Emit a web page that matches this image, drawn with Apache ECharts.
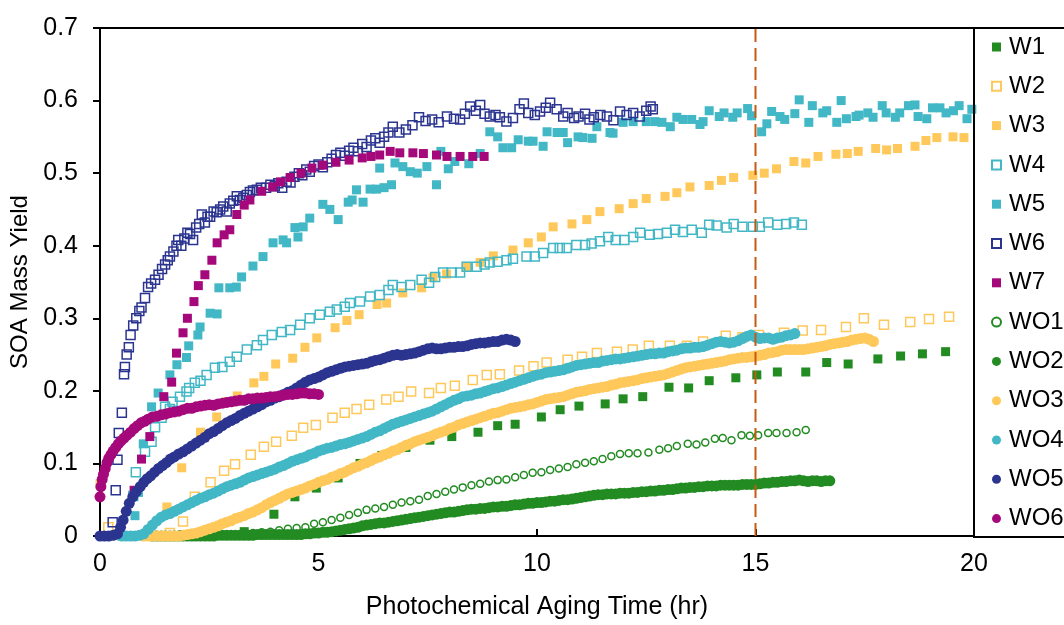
<!DOCTYPE html>
<html>
<head>
<meta charset="utf-8">
<script src="https://cdn.jsdelivr.net/npm/echarts@6/dist/echarts.min.js"></script>
<style>
  html, body { margin: 0; padding: 0; background: #fff; }
  #chart { width: 1064px; height: 625px; }
</style>
</head>
<body>
<div id="chart"></div>
<script>
// SOA mass yield vs. photochemical aging time, [hours, yield] pairs per experiment
const W1 = [[0.5,0.0],[1.2,0.001],[1.9,0.002],[2.6,0.003],[3.3,0.006],[3.98,0.03],[4.46,0.054],[4.95,0.066],[5.45,0.08],[5.95,0.1],[6.45,0.111],[7.0,0.122],[7.55,0.132],[8.05,0.137],[8.65,0.143],[9.1,0.152],[9.5,0.154],[10.1,0.164],[10.53,0.174],[10.96,0.179],[11.56,0.182],[11.97,0.189],[12.42,0.192],[13.02,0.205],[13.47,0.204],[13.94,0.214],[14.55,0.218],[15.03,0.222],[15.5,0.226],[16.15,0.226],[16.63,0.239],[17.12,0.237],[17.8,0.244],[18.32,0.248],[18.82,0.251],[19.35,0.254]];

const W2 = [[0.19,0.012],[1.6,0.004],[1.9,0.02],[2.17,0.054],[2.53,0.074],[2.84,0.09],[3.09,0.099],[3.45,0.112],[3.75,0.123],[4.03,0.13],[4.39,0.138],[4.65,0.149],[4.94,0.153],[5.32,0.163],[5.6,0.17],[5.87,0.175],[6.16,0.181],[6.55,0.188],[6.83,0.192],[7.12,0.199],[7.53,0.197],[7.8,0.204],[8.12,0.207],[8.53,0.215],[8.85,0.222],[9.15,0.223],[9.59,0.228],[9.92,0.234],[10.22,0.239],[10.7,0.243],[11.03,0.247],[11.37,0.252],[11.83,0.254],[12.19,0.257],[12.56,0.262],[13.04,0.262],[13.43,0.262],[13.8,0.268],[14.32,0.276],[14.7,0.274],[15.08,0.277],[15.65,0.28],[16.08,0.283],[16.5,0.284],[17.07,0.288],[17.48,0.3],[17.94,0.291],[18.54,0.295],[18.97,0.299],[19.43,0.302]];

const W3 = [[0.0,0.072],[1.53,0.04],[1.87,0.094],[2.3,0.143],[2.67,0.164],[2.9,0.185],[3.14,0.193],[3.52,0.211],[3.75,0.22],[4.02,0.237],[4.41,0.245],[4.69,0.26],[4.96,0.273],[5.38,0.287],[5.65,0.297],[5.93,0.305],[6.34,0.319],[6.56,0.321],[6.93,0.335],[7.36,0.342],[7.62,0.356],[7.93,0.361],[8.4,0.371],[8.7,0.377],[9.0,0.386],[9.45,0.394],[9.8,0.404],[10.1,0.412],[10.37,0.426],[10.8,0.43],[11.14,0.436],[11.44,0.447],[11.88,0.451],[12.2,0.458],[12.5,0.465],[12.93,0.468],[13.2,0.473],[13.5,0.481],[13.94,0.483],[14.22,0.49],[14.5,0.494],[14.94,0.497],[15.2,0.5],[15.48,0.506],[15.88,0.516],[16.15,0.514],[16.43,0.523],[16.84,0.526],[17.1,0.527],[17.35,0.53],[17.75,0.534],[18.0,0.532],[18.25,0.534],[18.65,0.537],[18.9,0.545],[19.15,0.549],[19.52,0.55],[19.77,0.549]];

const W4 = [[0.76,0.055],[0.82,0.088],[1.03,0.116],[1.18,0.13],[1.26,0.15],[1.41,0.163],[1.49,0.178],[1.6,0.175],[1.66,0.185],[1.83,0.192],[1.98,0.199],[2.04,0.204],[2.17,0.211],[2.3,0.214],[2.44,0.222],[2.63,0.232],[2.8,0.233],[2.97,0.24],[3.13,0.247],[3.36,0.257],[3.59,0.263],[3.73,0.27],[3.93,0.277],[4.16,0.281],[4.35,0.284],[4.58,0.291],[4.8,0.3],[5.03,0.305],[5.26,0.309],[5.42,0.312],[5.6,0.316],[5.72,0.321],[5.95,0.323],[6.18,0.33],[6.4,0.332],[6.6,0.339],[6.7,0.346],[6.9,0.343],[7.1,0.346],[7.36,0.353],[7.53,0.349],[7.67,0.357],[7.85,0.363],[8.05,0.363],[8.24,0.363],[8.39,0.371],[8.62,0.371],[8.8,0.374],[8.92,0.377],[9.1,0.378],[9.3,0.38],[9.45,0.382],[9.76,0.385],[9.95,0.385],[10.14,0.39],[10.37,0.397],[10.52,0.397],[10.68,0.397],[10.9,0.401],[11.1,0.401],[11.25,0.403],[11.44,0.406],[11.63,0.412],[11.8,0.408],[12.0,0.408],[12.2,0.412],[12.36,0.418],[12.58,0.415],[12.77,0.416],[12.97,0.418],[13.16,0.422],[13.34,0.419],[13.54,0.422],[13.77,0.418],[13.94,0.429],[14.11,0.428],[14.34,0.425],[14.5,0.43],[14.7,0.426],[14.94,0.426],[15.1,0.426],[15.29,0.432],[15.5,0.429],[15.7,0.43],[15.88,0.432],[16.06,0.429]];

const W5 = [[0.8,0.028],[0.88,0.06],[0.99,0.127],[1.18,0.178],[1.33,0.197],[1.6,0.222],[1.76,0.236],[1.98,0.246],[2.03,0.262],[2.24,0.277],[2.29,0.288],[2.52,0.307],[2.68,0.306],[2.72,0.342],[2.97,0.342],[3.12,0.343],[3.24,0.357],[3.5,0.372],[3.73,0.385],[3.96,0.404],[4.19,0.408],[4.27,0.404],[4.46,0.425],[4.53,0.412],[4.65,0.426],[4.8,0.438],[5.1,0.457],[5.26,0.45],[5.45,0.436],[5.68,0.46],[5.77,0.463],[5.87,0.477],[6.02,0.46],[6.18,0.478],[6.33,0.478],[6.4,0.507],[6.5,0.48],[6.67,0.484],[6.75,0.514],[6.93,0.509],[7.1,0.502],[7.26,0.5],[7.48,0.509],[7.7,0.484],[7.8,0.53],[7.97,0.506],[8.12,0.516],[8.44,0.513],[8.7,0.527],[8.92,0.557],[9.1,0.55],[9.22,0.535],[9.42,0.535],[9.57,0.546],[9.8,0.544],[9.91,0.544],[10.14,0.537],[10.23,0.557],[10.46,0.556],[10.6,0.556],[10.7,0.542],[10.94,0.55],[11.05,0.549],[11.26,0.548],[11.37,0.564],[11.67,0.556],[11.74,0.555],[11.97,0.57],[12.2,0.571],[12.5,0.571],[12.7,0.571],[12.86,0.57],[13.05,0.564],[13.2,0.577],[13.34,0.574],[13.54,0.574],[13.73,0.567],[13.8,0.571],[13.94,0.586],[14.17,0.578],[14.28,0.583],[14.48,0.577],[14.58,0.583],[14.82,0.589],[14.91,0.579],[15.14,0.557],[15.26,0.568],[15.37,0.585],[15.56,0.578],[15.67,0.574],[15.9,0.582],[16.0,0.601],[16.22,0.57],[16.3,0.593],[16.54,0.583],[16.63,0.586],[16.86,0.57],[16.96,0.6],[17.08,0.575],[17.3,0.578],[17.37,0.58],[17.57,0.583],[17.69,0.577],[17.9,0.593],[17.99,0.583],[18.2,0.577],[18.3,0.583],[18.5,0.593],[18.65,0.594],[18.72,0.578],[18.92,0.575],[19.05,0.59],[19.22,0.59],[19.36,0.583],[19.53,0.586],[19.66,0.593],[19.84,0.575],[19.95,0.588]];

const W6 = [[0.29,0.019],[0.36,0.063],[0.4,0.105],[0.43,0.142],[0.5,0.17],[0.55,0.223],[0.57,0.233],[0.61,0.25],[0.66,0.26],[0.7,0.277],[0.76,0.29],[0.83,0.3],[0.9,0.31],[0.95,0.315],[1.03,0.328],[1.1,0.343],[1.17,0.348],[1.26,0.353],[1.34,0.36],[1.42,0.368],[1.49,0.374],[1.55,0.38],[1.6,0.385],[1.68,0.392],[1.75,0.4],[1.79,0.408],[1.86,0.4],[1.93,0.41],[2.0,0.418],[2.06,0.416],[2.13,0.408],[2.2,0.425],[2.27,0.43],[2.33,0.443],[2.4,0.432],[2.46,0.44],[2.52,0.44],[2.6,0.447],[2.67,0.446],[2.75,0.45],[2.82,0.454],[2.9,0.447],[2.97,0.458],[3.05,0.462],[3.13,0.468],[3.2,0.463],[3.28,0.466],[3.36,0.47],[3.43,0.474],[3.5,0.476],[3.59,0.477],[3.68,0.48],[3.8,0.48],[3.9,0.484],[4.0,0.482],[4.08,0.486],[4.17,0.48],[4.27,0.488],[4.36,0.487],[4.45,0.495],[4.55,0.5],[4.63,0.497],[4.72,0.505],[4.8,0.502],[4.9,0.51],[5.0,0.512],[5.1,0.508],[5.2,0.515],[5.3,0.52],[5.4,0.525],[5.5,0.528],[5.6,0.524],[5.7,0.531],[5.8,0.535],[5.9,0.53],[6.0,0.54],[6.1,0.536],[6.2,0.545],[6.3,0.548],[6.4,0.542],[6.5,0.55],[6.6,0.556],[6.7,0.564],[6.85,0.556],[7.0,0.56],[7.15,0.566],[7.3,0.577],[7.45,0.572],[7.6,0.574],[7.75,0.57],[7.94,0.578],[8.1,0.575],[8.24,0.574],[8.35,0.582],[8.47,0.592],[8.6,0.586],[8.7,0.594],[8.8,0.582],[8.92,0.578],[9.05,0.58],[9.15,0.577],[9.3,0.571],[9.45,0.576],[9.6,0.588],[9.7,0.596],[9.8,0.583],[9.95,0.58],[10.07,0.585],[10.2,0.59],[10.3,0.597],[10.45,0.588],[10.6,0.578],[10.7,0.583],[10.85,0.576],[10.95,0.578],[11.1,0.582],[11.2,0.574],[11.3,0.577],[11.45,0.58],[11.6,0.578],[11.75,0.573],[11.9,0.585],[12.05,0.58],[12.2,0.583],[12.35,0.578],[12.5,0.586],[12.6,0.592],[12.65,0.588]];

const W7 = [[0.78,0.063],[0.95,0.106],[1.14,0.137],[1.46,0.192],[1.64,0.212],[1.75,0.252],[1.9,0.28],[2.0,0.3],[2.15,0.323],[2.25,0.345],[2.4,0.36],[2.56,0.38],[2.68,0.404],[2.84,0.415],[2.97,0.422],[3.13,0.443],[3.3,0.456],[3.43,0.463],[3.7,0.475],[3.95,0.481],[4.13,0.488],[4.35,0.494],[4.6,0.5],[4.85,0.507],[5.1,0.511],[5.4,0.515],[5.7,0.518],[6.0,0.521],[6.2,0.523],[6.4,0.525],[6.64,0.53],[6.86,0.528],[7.16,0.528],[7.4,0.527],[7.7,0.525],[7.94,0.523],[8.24,0.523],[8.53,0.523],[8.79,0.523]];

const WO1 = [[3.3,0.003],[3.5,0.004],[3.7,0.005],[3.9,0.006],[4.1,0.008],[4.3,0.01],[4.5,0.011],[4.7,0.012],[4.9,0.017],[5.1,0.019],[5.3,0.022],[5.5,0.025],[5.7,0.029],[5.9,0.032],[6.1,0.036],[6.3,0.038],[6.5,0.04],[6.7,0.043],[6.9,0.046],[7.1,0.048],[7.3,0.05],[7.5,0.055],[7.7,0.058],[7.9,0.061],[8.1,0.064],[8.3,0.067],[8.5,0.07],[8.7,0.072],[8.9,0.075],[9.1,0.077],[9.3,0.078],[9.5,0.081],[9.7,0.084],[9.9,0.087],[10.1,0.088],[10.3,0.091],[10.5,0.093],[10.7,0.095],[10.9,0.099],[11.1,0.101],[11.3,0.103],[11.5,0.106],[11.7,0.11],[11.9,0.113],[12.1,0.114],[12.3,0.114],[12.55,0.115],[12.8,0.119],[13.0,0.121],[13.2,0.124],[13.45,0.127],[13.65,0.126],[13.85,0.129],[14.07,0.134],[14.25,0.135],[14.45,0.132],[14.68,0.139],[14.87,0.138],[15.06,0.139],[15.29,0.142],[15.48,0.142],[15.71,0.142],[15.94,0.143],[16.15,0.146]];

const WO2 = [[1.2,0],[1.3,0],[1.4,0],[1.5,0],[1.6,0],[1.7,0],[1.8,0],[1.9,0],[2.0,0],[2.1,0],[2.2,0],[2.3,0],[2.4,0],[2.5,0],[2.6,0],[2.7,0.001],[2.8,0.001],[2.9,0.001],[3.0,0.001],[3.1,0.001],[3.2,0.001],[3.3,0.001],[3.4,0.001],[3.5,0.001],[3.6,0.002],[3.7,0.002],[3.8,0.002],[3.9,0.002],[4.0,0.002],[4.1,0.002],[4.2,0.002],[4.3,0.002],[4.4,0.002],[4.5,0.002],[4.6,0.002],[4.7,0.003],[4.8,0.003],[4.9,0.004],[5.0,0.004],[5.1,0.005],[5.2,0.005],[5.3,0.006],[5.4,0.007],[5.5,0.008],[5.6,0.009],[5.7,0.01],[5.8,0.011],[5.9,0.012],[6.0,0.014],[6.1,0.015],[6.2,0.016],[6.3,0.017],[6.4,0.018],[6.5,0.018],[6.6,0.019],[6.7,0.02],[6.8,0.021],[6.9,0.022],[7.0,0.023],[7.1,0.024],[7.2,0.025],[7.3,0.026],[7.4,0.027],[7.5,0.028],[7.6,0.029],[7.7,0.03],[7.8,0.031],[7.9,0.032],[8.0,0.033],[8.1,0.033],[8.2,0.034],[8.3,0.035],[8.4,0.036],[8.5,0.037],[8.6,0.037],[8.7,0.038],[8.8,0.038],[8.9,0.039],[9.0,0.04],[9.1,0.04],[9.2,0.041],[9.3,0.041],[9.4,0.042],[9.5,0.043],[9.6,0.043],[9.7,0.044],[9.8,0.045],[9.9,0.045],[10.0,0.046],[10.1,0.046],[10.2,0.047],[10.3,0.048],[10.4,0.048],[10.5,0.049],[10.6,0.05],[10.7,0.05],[10.8,0.051],[10.9,0.052],[11.0,0.053],[11.1,0.054],[11.2,0.055],[11.3,0.056],[11.4,0.057],[11.5,0.057],[11.6,0.058],[11.7,0.058],[11.8,0.058],[11.9,0.059],[12.0,0.059],[12.1,0.059],[12.2,0.06],[12.3,0.06],[12.4,0.061],[12.5,0.061],[12.6,0.062],[12.7,0.062],[12.8,0.063],[12.9,0.063],[13.0,0.064],[13.1,0.064],[13.2,0.065],[13.3,0.066],[13.4,0.066],[13.5,0.067],[13.6,0.067],[13.7,0.068],[13.8,0.068],[13.9,0.069],[14.0,0.069],[14.1,0.069],[14.2,0.07],[14.3,0.07],[14.4,0.07],[14.5,0.07],[14.6,0.07],[14.7,0.071],[14.8,0.071],[14.9,0.071],[15.0,0.071],[15.1,0.072],[15.2,0.073],[15.3,0.073],[15.4,0.074],[15.5,0.074],[15.6,0.075],[15.7,0.075],[15.8,0.076],[15.9,0.076],[16.0,0.077],[16.1,0.076],[16.2,0.075],[16.3,0.076],[16.4,0.076],[16.5,0.075],[16.6,0.076],[16.7,0.076]];

const WO3 = [[1.0,0],[1.1,0],[1.2,0],[1.3,0],[1.4,0],[1.5,0],[1.6,0],[1.7,0],[1.8,0],[1.9,0.001],[2.0,0.002],[2.1,0.003],[2.2,0.004],[2.3,0.006],[2.4,0.008],[2.5,0.01],[2.6,0.012],[2.7,0.014],[2.8,0.017],[2.9,0.019],[3.0,0.021],[3.1,0.024],[3.2,0.026],[3.3,0.028],[3.4,0.031],[3.5,0.033],[3.6,0.036],[3.7,0.039],[3.8,0.043],[3.9,0.046],[4.0,0.049],[4.1,0.052],[4.2,0.055],[4.3,0.058],[4.4,0.06],[4.5,0.062],[4.6,0.064],[4.7,0.066],[4.8,0.069],[4.9,0.071],[5.0,0.074],[5.1,0.076],[5.2,0.078],[5.3,0.081],[5.4,0.083],[5.5,0.086],[5.6,0.088],[5.7,0.091],[5.8,0.094],[5.9,0.096],[6.0,0.099],[6.1,0.101],[6.2,0.104],[6.3,0.107],[6.4,0.109],[6.5,0.112],[6.6,0.114],[6.7,0.117],[6.8,0.119],[6.9,0.122],[7.0,0.125],[7.1,0.127],[7.2,0.13],[7.3,0.132],[7.4,0.134],[7.5,0.136],[7.6,0.138],[7.7,0.141],[7.8,0.143],[7.9,0.145],[8.0,0.148],[8.1,0.15],[8.2,0.153],[8.3,0.155],[8.4,0.157],[8.5,0.159],[8.6,0.161],[8.7,0.163],[8.8,0.165],[8.9,0.167],[9.0,0.169],[9.1,0.17],[9.2,0.172],[9.3,0.174],[9.4,0.176],[9.5,0.177],[9.6,0.178],[9.7,0.179],[9.8,0.181],[9.9,0.182],[10.0,0.184],[10.1,0.186],[10.2,0.188],[10.3,0.189],[10.4,0.19],[10.5,0.191],[10.6,0.192],[10.7,0.194],[10.8,0.196],[10.9,0.198],[11.0,0.199],[11.1,0.2],[11.2,0.202],[11.3,0.203],[11.4,0.204],[11.5,0.205],[11.6,0.206],[11.7,0.208],[11.8,0.209],[11.9,0.211],[12.0,0.212],[12.1,0.213],[12.2,0.214],[12.3,0.215],[12.4,0.217],[12.5,0.218],[12.6,0.219],[12.7,0.22],[12.8,0.221],[12.9,0.222],[13.0,0.224],[13.1,0.226],[13.2,0.228],[13.3,0.23],[13.4,0.232],[13.5,0.233],[13.6,0.234],[13.7,0.235],[13.8,0.236],[13.9,0.237],[14.0,0.238],[14.1,0.239],[14.2,0.24],[14.3,0.241],[14.4,0.243],[14.5,0.244],[14.6,0.245],[14.7,0.246],[14.8,0.246],[14.9,0.247],[15.0,0.248],[15.1,0.249],[15.2,0.25],[15.3,0.252],[15.4,0.253],[15.5,0.254],[15.6,0.256],[15.7,0.257],[15.8,0.257],[15.9,0.257],[16.0,0.257],[16.1,0.257],[16.2,0.258],[16.3,0.259],[16.4,0.26],[16.5,0.261],[16.6,0.262],[16.7,0.264],[16.8,0.265],[16.9,0.266],[17.0,0.267],[17.1,0.268],[17.2,0.27],[17.3,0.271],[17.4,0.272],[17.5,0.273],[17.6,0.271],[17.7,0.268]];

const WO4 = [[0.5,0],[0.6,0],[0.7,0],[0.8,0],[0.9,0.001],[1.0,0.003],[1.1,0.009],[1.2,0.015],[1.3,0.021],[1.4,0.026],[1.5,0.029],[1.6,0.031],[1.7,0.034],[1.8,0.037],[1.9,0.04],[2.0,0.043],[2.1,0.046],[2.2,0.049],[2.3,0.052],[2.4,0.054],[2.5,0.057],[2.6,0.059],[2.7,0.062],[2.8,0.065],[2.9,0.068],[3.0,0.07],[3.1,0.072],[3.2,0.074],[3.3,0.077],[3.4,0.08],[3.5,0.082],[3.6,0.084],[3.7,0.086],[3.8,0.088],[3.9,0.09],[4.0,0.092],[4.1,0.095],[4.2,0.097],[4.3,0.1],[4.4,0.103],[4.5,0.105],[4.6,0.107],[4.7,0.109],[4.8,0.112],[4.9,0.114],[5.0,0.117],[5.1,0.119],[5.2,0.121],[5.3,0.122],[5.4,0.124],[5.5,0.126],[5.6,0.127],[5.7,0.129],[5.8,0.131],[5.9,0.133],[6.0,0.135],[6.1,0.137],[6.2,0.14],[6.3,0.143],[6.4,0.145],[6.5,0.148],[6.6,0.151],[6.7,0.154],[6.8,0.156],[6.9,0.158],[7.0,0.16],[7.1,0.162],[7.2,0.164],[7.3,0.166],[7.4,0.168],[7.5,0.17],[7.6,0.172],[7.7,0.175],[7.8,0.178],[7.9,0.181],[8.0,0.184],[8.1,0.187],[8.2,0.189],[8.3,0.192],[8.4,0.193],[8.5,0.194],[8.6,0.196],[8.7,0.197],[8.8,0.199],[8.9,0.201],[9.0,0.203],[9.1,0.204],[9.2,0.206],[9.3,0.208],[9.4,0.21],[9.5,0.212],[9.6,0.214],[9.7,0.216],[9.8,0.218],[9.9,0.22],[10.0,0.222],[10.1,0.223],[10.2,0.225],[10.3,0.226],[10.4,0.227],[10.5,0.228],[10.6,0.229],[10.7,0.231],[10.8,0.233],[10.9,0.235],[11.0,0.236],[11.1,0.237],[11.2,0.238],[11.3,0.239],[11.4,0.239],[11.5,0.241],[11.6,0.242],[11.7,0.243],[11.8,0.244],[11.9,0.244],[12.0,0.245],[12.1,0.246],[12.2,0.247],[12.3,0.248],[12.4,0.249],[12.5,0.25],[12.6,0.251],[12.7,0.251],[12.8,0.252],[12.9,0.252],[13.0,0.254],[13.1,0.255],[13.2,0.256],[13.3,0.258],[13.4,0.259],[13.5,0.259],[13.6,0.26],[13.7,0.26],[13.8,0.261],[13.9,0.263],[14.0,0.265],[14.1,0.267],[14.2,0.268],[14.3,0.267],[14.4,0.266],[14.5,0.267],[14.6,0.269],[14.7,0.272],[14.8,0.275],[14.9,0.277],[15.0,0.274],[15.1,0.272],[15.2,0.273],[15.3,0.273],[15.4,0.271],[15.5,0.273],[15.6,0.274],[15.7,0.276],[15.8,0.277],[15.9,0.279]];

const WO5 = [[0,0],[0.1,0],[0.2,0],[0.3,0.001],[0.4,0.003],[0.47,0.012],[0.53,0.022],[0.6,0.034],[0.67,0.045],[0.75,0.054],[0.83,0.061],[0.92,0.068],[1.0,0.074],[1.08,0.079],[1.16,0.083],[1.25,0.088],[1.34,0.093],[1.43,0.097],[1.52,0.101],[1.61,0.106],[1.7,0.109],[1.8,0.113],[1.9,0.116],[2.0,0.12],[2.1,0.124],[2.2,0.128],[2.3,0.132],[2.4,0.136],[2.5,0.141],[2.6,0.144],[2.7,0.148],[2.8,0.152],[2.9,0.156],[3.0,0.159],[3.1,0.162],[3.2,0.166],[3.3,0.169],[3.4,0.172],[3.5,0.175],[3.6,0.178],[3.7,0.181],[3.8,0.185],[3.9,0.187],[4.0,0.19],[4.1,0.192],[4.2,0.195],[4.3,0.198],[4.4,0.2],[4.5,0.204],[4.6,0.208],[4.7,0.212],[4.8,0.215],[4.9,0.217],[5.0,0.219],[5.1,0.222],[5.2,0.225],[5.3,0.227],[5.4,0.229],[5.5,0.231],[5.6,0.233],[5.7,0.234],[5.8,0.235],[5.9,0.236],[6.0,0.237],[6.1,0.238],[6.2,0.24],[6.3,0.242],[6.4,0.243],[6.5,0.245],[6.6,0.247],[6.7,0.249],[6.8,0.25],[6.9,0.249],[7.0,0.25],[7.1,0.251],[7.2,0.252],[7.3,0.254],[7.4,0.256],[7.5,0.258],[7.6,0.259],[7.7,0.258],[7.8,0.258],[7.9,0.259],[8.0,0.26],[8.1,0.26],[8.2,0.261],[8.3,0.261],[8.4,0.262],[8.5,0.264],[8.6,0.265],[8.7,0.266],[8.8,0.266],[8.9,0.267],[9.0,0.268],[9.1,0.268],[9.2,0.27],[9.3,0.271],[9.4,0.27],[9.5,0.268]];

const WO6 = [[0,0.054],[0.02,0.068],[0.05,0.078],[0.08,0.085],[0.12,0.093],[0.16,0.101],[0.2,0.107],[0.25,0.112],[0.3,0.117],[0.36,0.122],[0.42,0.127],[0.48,0.131],[0.55,0.135],[0.62,0.139],[0.7,0.143],[0.78,0.148],[0.86,0.152],[0.94,0.156],[1.02,0.158],[1.1,0.161],[1.2,0.164],[1.3,0.165],[1.4,0.167],[1.5,0.168],[1.6,0.17],[1.7,0.171],[1.8,0.172],[1.9,0.174],[2.0,0.176],[2.1,0.176],[2.2,0.178],[2.3,0.179],[2.4,0.18],[2.5,0.181],[2.6,0.18],[2.7,0.182],[2.8,0.183],[2.9,0.184],[3.0,0.185],[3.1,0.186],[3.2,0.187],[3.3,0.187],[3.4,0.189],[3.5,0.189],[3.6,0.19],[3.7,0.19],[3.8,0.191],[3.9,0.192],[4.0,0.192],[4.1,0.193],[4.2,0.194],[4.3,0.195],[4.4,0.195],[4.5,0.196],[4.6,0.197],[4.7,0.197],[4.8,0.196],[4.9,0.196],[5.0,0.195]];

// Reference time marked with a dashed vertical line
const MARK_TIME = 15;

const X_TICKS = [0, 5, 10, 15, 20];
const Y_TICKS = [0, 0.1, 0.2, 0.3, 0.4, 0.5, 0.6, 0.7];

const GREEN = '#228B22', GOLD = '#FFC85A', TEAL = '#42B7C5', NAVY = '#2B3590', MAGENTA = '#A5087A';
const FONT = '"Liberation Sans", Arial, sans-serif';

function sq(name, data, color) {
  return { name, type: 'scatter', data, symbol: 'rect', symbolSize: 9,
    itemStyle: { color, opacity: 1 } };
}
function hollowSq(name, data, color) {
  return { name, type: 'scatter', data, symbol: 'rect', symbolSize: 9,
    itemStyle: { color: 'rgba(255,255,255,0)', borderColor: color, borderWidth: 1.5, opacity: 1 } };
}
function dot(name, data, color) {
  return { name, type: 'scatter', data, symbol: 'circle', symbolSize: 11,
    itemStyle: { color, opacity: 1 } };
}
function ring(name, data, color) {
  return { name, type: 'scatter', data, symbol: 'circle', symbolSize: 7,
    itemStyle: { color: 'rgba(255,255,255,0)', borderColor: color, borderWidth: 1.5, opacity: 1 } };
}

const chart = echarts.init(document.getElementById('chart'), null, { renderer: 'canvas' });

chart.setOption({
  animation: false,
  backgroundColor: '#fff',
  textStyle: { fontFamily: FONT },
  grid: { left: 100, right: 90, top: 28, bottom: 89, show: true, borderColor: '#000', borderWidth: 2 },
  xAxis: {
    type: 'value', min: X_TICKS[0], max: X_TICKS[X_TICKS.length - 1], interval: 5,
    name: 'Photochemical Aging Time (hr)', nameLocation: 'middle', nameGap: 59,
    nameTextStyle: { fontSize: 25, color: '#000', fontFamily: FONT },
    axisLine: { show: true, lineStyle: { color: '#000', width: 2 } },
    axisTick: { show: true, inside: true, length: 7, lineStyle: { color: '#000', width: 2 } },
    axisLabel: { fontSize: 25, color: '#000', margin: 16, fontFamily: FONT },
    splitLine: { show: false }
  },
  yAxis: {
    type: 'value', min: Y_TICKS[0], max: Y_TICKS[Y_TICKS.length - 1], interval: 0.1,
    name: 'SOA Mass Yield', nameLocation: 'middle', nameGap: 64,
    nameTextStyle: { fontSize: 24, color: '#000', fontFamily: FONT },
    axisLine: { show: true, lineStyle: { color: '#000', width: 2 } },
    axisTick: { show: true, inside: false, length: 7, lineStyle: { color: '#000', width: 2 } },
    axisLabel: { fontSize: 25, color: '#000', margin: 22, fontFamily: FONT,
      formatter: v => (Math.round(v * 10) / 10).toString() },
    splitLine: { show: false }
  },
  legend: {
    orient: 'vertical', left: 986, top: 28,
    itemWidth: 9, itemHeight: 9, itemGap: 11.3,
    textStyle: { fontSize: 24, lineHeight: 28, color: '#000', fontFamily: FONT, padding: [0, 0, 0, 3] },
    data: ['W1', 'W2', 'W3', 'W4', 'W5', 'W6', 'W7', 'WO1', 'WO2', 'WO3', 'WO4', 'WO5', 'WO6']
  },
  graphic: [{
    type: 'rect', silent: true, z: 100,
    shape: { x: 974, y: 28, width: 100, height: 509 },
    style: { fill: 'none', stroke: '#000', lineWidth: 2 }
  }],
  series: [
    sq('W1', W1, GREEN),
    hollowSq('W2', W2, GOLD),
    sq('W3', W3, GOLD),
    hollowSq('W4', W4, TEAL),
    sq('W5', W5, TEAL),
    hollowSq('W6', W6, NAVY),
    sq('W7', W7, MAGENTA),
    ring('WO1', WO1, GREEN),
    dot('WO2', WO2, GREEN),
    dot('WO3', WO3, GOLD),
    dot('WO4', WO4, TEAL),
    dot('WO5', WO5, NAVY),
    dot('WO6', WO6, MAGENTA),
    {
      name: 'mark', type: 'line', silent: true, symbol: 'none',
      data: [[MARK_TIME, Y_TICKS[0]], [MARK_TIME, Y_TICKS[Y_TICKS.length - 1]]],
      lineStyle: { color: '#C55A11', width: 2, type: [13, 6] }, z: 5
    }
  ]
});
</script>
</body>
</html>
